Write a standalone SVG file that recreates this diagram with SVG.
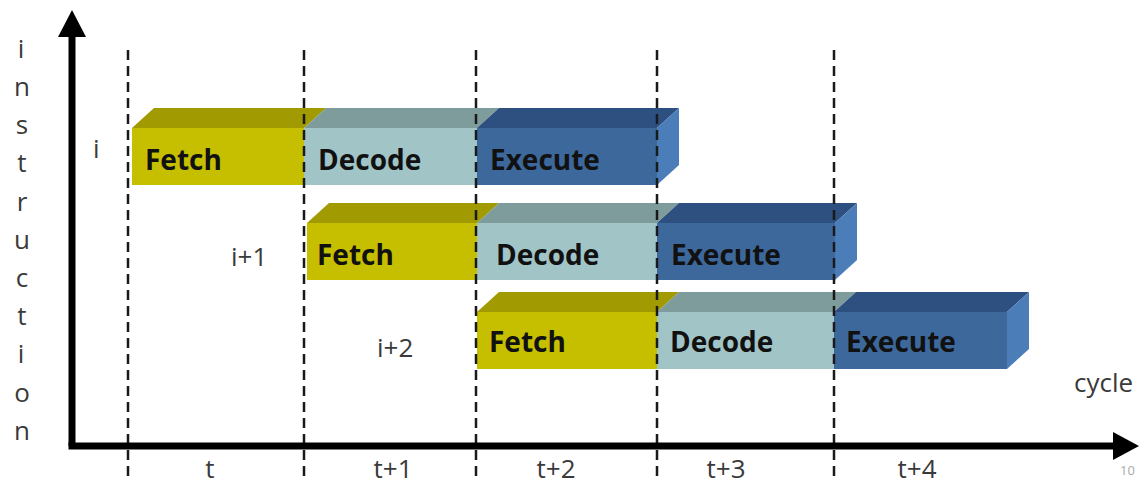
<svg xmlns="http://www.w3.org/2000/svg" width="1140" height="485" viewBox="0 0 1140 485">
<style>
.fetch-front{fill:#C6BF00}
.fetch-top{fill:#A19A00}
.dec-front{fill:#A1C4C7}
.dec-top{fill:#7E9C9C}
.exe-front{fill:#3D689C}
.exe-top{fill:#2D5080}
.exe-side{fill:#4B7DB8}
.blk{font-family:"Open Sans","Liberation Sans",sans-serif;font-weight:bold;font-size:28px;fill:#111}
.lbl{font-family:"Open Sans","Liberation Sans",sans-serif;font-size:26px;fill:#3a3a3a}
.vl{font-family:"Open Sans","Liberation Sans",sans-serif;font-size:26px;fill:#3a3a3a;text-anchor:middle}
.dash{stroke:#1a1a1a;stroke-width:2.5;stroke-dasharray:10,6;fill:none}
.axis{stroke:#000;stroke-width:7;fill:none}
</style>
<rect width="1140" height="485" fill="#fff"/>

<g id="axis-label">
<text class="vl" x="21" y="58">i</text>
<text class="vl" x="22" y="96">n</text>
<text class="vl" x="22" y="134">s</text>
<text class="vl" x="22" y="172">t</text>
<text class="vl" x="22" y="211">r</text>
<text class="vl" x="22" y="249">u</text>
<text class="vl" x="22" y="287">c</text>
<text class="vl" x="22" y="325">t</text>
<text class="vl" x="21" y="363">i</text>
<text class="vl" x="22" y="402">o</text>
<text class="vl" x="22" y="440">n</text>
</g>

<g id="row1">
<g id="r1-fetch">
<rect class="fetch-front" x="132" y="128" width="172" height="57"/>
<polygon class="fetch-top" points="132,128 154,108 326,108 304,128"/>
<text class="blk" x="145" y="170">Fetch</text>
</g>
<g id="r1-decode">
<rect class="dec-front" x="304" y="128" width="173" height="57"/>
<polygon class="dec-top" points="304,128 326,108 499,108 477,128"/>
<text class="blk" x="318" y="170">Decode</text>
</g>
<g id="r1-execute">
<rect class="exe-front" x="477" y="128" width="180" height="57"/>
<polygon class="exe-top" points="477,128 499,108 679,108 657,128"/>
<polygon class="exe-side" points="657,128 679,108 679,165 657,185"/>
<text class="blk" x="490" y="170">Execute</text>
</g>
</g>

<g id="row2">
<g id="r2-fetch">
<rect class="fetch-front" x="307" y="223" width="170" height="57"/>
<polygon class="fetch-top" points="307,223 329,203 499,203 477,223"/>
<text class="blk" x="317" y="265">Fetch</text>
</g>
<g id="r2-decode">
<rect class="dec-front" x="477" y="223" width="180" height="57"/>
<polygon class="dec-top" points="477,223 499,203 679,203 657,223"/>
<text class="blk" x="496" y="265">Decode</text>
</g>
<g id="r2-execute">
<rect class="exe-front" x="657" y="223" width="178" height="57"/>
<polygon class="exe-top" points="657,223 679,203 857,203 835,223"/>
<polygon class="exe-side" points="835,223 857,203 857,260 835,280"/>
<text class="blk" x="671" y="265">Execute</text>
</g>
</g>

<g id="row3">
<g id="r3-fetch">
<rect class="fetch-front" x="477" y="312" width="180" height="57"/>
<polygon class="fetch-top" points="477,312 499,292 679,292 657,312"/>
<text class="blk" x="489" y="352">Fetch</text>
</g>
<g id="r3-decode">
<rect class="dec-front" x="657" y="312" width="177" height="57"/>
<polygon class="dec-top" points="657,312 679,292 856,292 834,312"/>
<text class="blk" x="670" y="352">Decode</text>
</g>
<g id="r3-execute">
<rect class="exe-front" x="834" y="312" width="173" height="57"/>
<polygon class="exe-top" points="834,312 856,292 1029,292 1007,312"/>
<polygon class="exe-side" points="1007,312 1029,292 1029,349 1007,369"/>
<text class="blk" x="846" y="352">Execute</text>
</g>
</g>

<g id="grid">
<line class="dash" x1="128" y1="50" x2="128" y2="482"/>
<line class="dash" x1="304" y1="50" x2="304" y2="482"/>
<line class="dash" x1="476" y1="50" x2="476" y2="482"/>
<line class="dash" x1="657" y1="50" x2="657" y2="482"/>
<line class="dash" x1="834" y1="50" x2="834" y2="482"/>
</g>

<g id="connectors">
<path class="axis" d="M72,446 V34"/>
<polygon points="72,10 58,37 86,37" fill="#000"/>
<path class="axis" d="M68.5,446 H1115"/>
<polygon points="1139,446 1113,432 1113,460" fill="#000"/>
</g>

<g id="labels">
<text class="lbl" x="93" y="158">i</text>
<text class="lbl" x="231" y="266">i+1</text>
<text class="lbl" x="377" y="357">i+2</text>
<text class="lbl" x="1074" y="392">cycle</text>
<text class="lbl" x="210" y="478" text-anchor="middle">t</text>
<text class="lbl" x="393" y="478" text-anchor="middle">t+1</text>
<text class="lbl" x="556" y="478" text-anchor="middle">t+2</text>
<text class="lbl" x="726" y="478" text-anchor="middle">t+3</text>
<text class="lbl" x="917" y="478" text-anchor="middle">t+4</text>
<text x="1120" y="475" font-family="'Open Sans','Liberation Sans',sans-serif" font-size="13" fill="#aaa">10</text>
</g>
</svg>
